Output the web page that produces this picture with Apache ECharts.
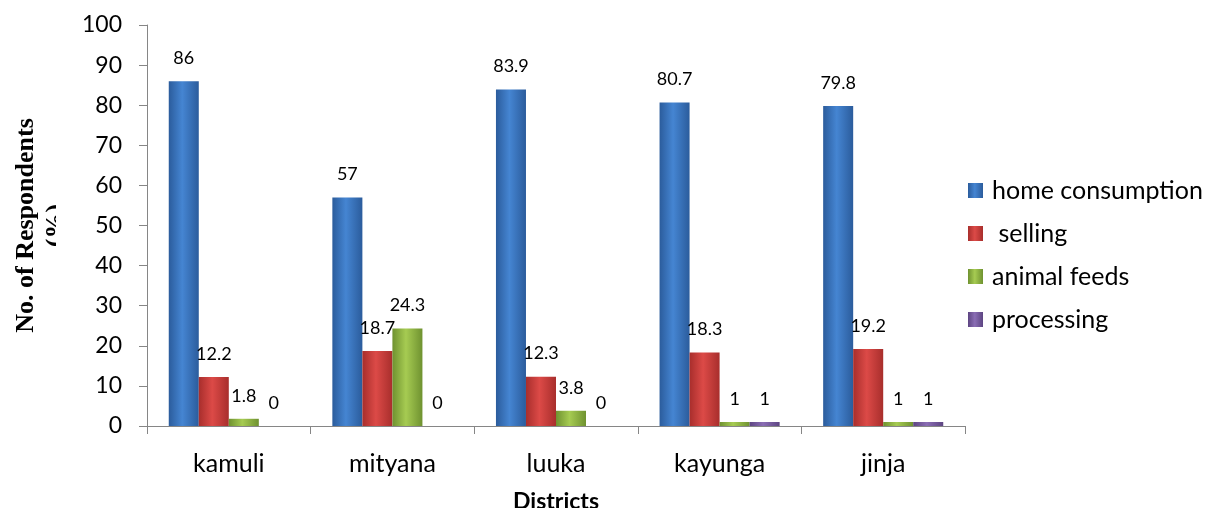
<!DOCTYPE html>
<html>
<head>
<meta charset="utf-8">
<script src="https://cdn.jsdelivr.net/npm/echarts@6/dist/echarts.min.js"></script>
<style>
html,body{margin:0;padding:0;background:#fff;}
#chart{width:1211px;height:508px;}
</style>
</head>
<body>
<div id="chart"></div>
<script>
var categories = ['kamuli', 'mityana', 'luuka', 'kayunga', 'jinja'];
var seriesNames = ['home consumption', ' selling', 'animal feeds', 'processing'];
var homeConsumption = [86, 57, 83.9, 80.7, 79.8];
var selling = [12.2, 18.7, 12.3, 18.3, 19.2];
var animalFeeds = [1.8, 24.3, 3.8, 1, 1];
var processing = [0, 0, 0, 1, 1];
var yTicks = [0, 10, 20, 30, 40, 50, 60, 70, 80, 90, 100];

var palette = [
  {edge: '#2b5c9c', mid: '#4585d2'},
  {edge: '#a82e2c', mid: '#dc4a47'},
  {edge: '#6f9230', mid: '#a6cb52'},
  {edge: '#5d4582', mid: '#8a6db4'}
];
function grad(p) {
  return new echarts.graphic.LinearGradient(0, 0, 1, 0, [
    {offset: 0, color: p.edge},
    {offset: 0.45, color: p.mid},
    {offset: 1, color: p.edge}
  ]);
}
var values = [homeConsumption, selling, animalFeeds, processing];

var chart = echarts.init(document.getElementById('chart'), null, {renderer: 'canvas'});
var series = values.map(function (v, i) {
  return {
    name: seriesNames[i],
    type: 'bar',
    data: v,
    barGap: '0%',
    barCategoryGap: '26.6%',
    itemStyle: {color: grad(palette[i]), borderWidth: 0},
    label: {
      show: true,
      position: 'top',
      distance: 14,
      fontFamily: 'Lato',
      fontSize: 18,
      color: '#000'
    }
  };
});

chart.setOption({
  animation: false,
  grid: {left: 147, right: 246, top: 25, bottom: 82, outerBoundsMode: 'none', containLabel: false},
  legend: {
    orient: 'vertical',
    left: 963,
    top: 173,
    itemWidth: 15,
    itemHeight: 15,
    itemGap: 18,
    icon: 'rect',
    textStyle: {fontFamily: 'Lato', fontSize: 25, color: '#000', padding: [0, 0, 0, 4]},
    data: seriesNames
  },
  graphic: [{
    type: 'rect',
    z: 100,
    shape: {x: 56, y: 190, width: 22, height: 70},
    style: {fill: '#fff'}
  }],
  xAxis: {
    type: 'category',
    data: categories,
    name: 'Districts',
    nameLocation: 'middle',
    nameGap: 64,
    nameTextStyle: {fontFamily: 'Lato', fontWeight: 'bold', fontSize: 23, color: '#000'},
    axisLine: {lineStyle: {color: '#868686', width: 1}},
    axisTick: {show: true, length: 8, lineStyle: {color: '#868686'}},
    axisLabel: {fontFamily: 'Lato', fontSize: 25, color: '#000', margin: 25}
  },
  yAxis: {
    type: 'value',
    min: yTicks[0],
    max: yTicks[yTicks.length - 1],
    interval: 10,
    name: 'No. of Respondents\n(%)',
    nameLocation: 'middle',
    nameRotate: 90,
    nameGap: 71,
    nameTextStyle: {fontFamily: 'Liberation Serif', fontWeight: 'bold', fontSize: 26, color: '#000', lineHeight: 30},
    splitLine: {show: false},
    axisLine: {show: true, lineStyle: {color: '#868686', width: 1}},
    axisTick: {show: true, length: 8, lineStyle: {color: '#868686'}},
    axisLabel: {fontFamily: 'Lato', fontSize: 23, color: '#000', margin: 25}
  },
  series: series
});
</script>
</body>
</html>
